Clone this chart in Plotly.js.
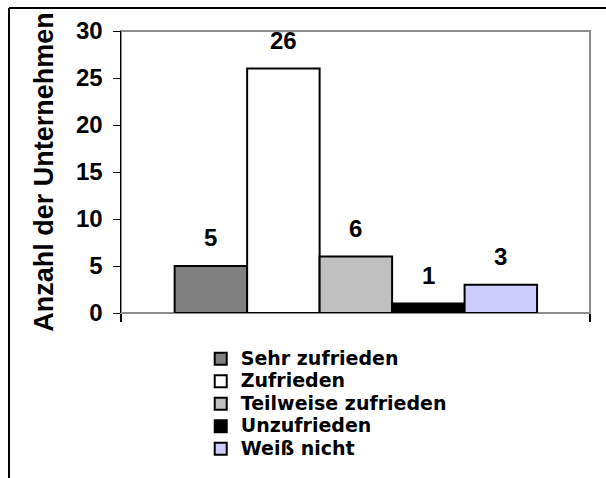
<!DOCTYPE html>
<html><head><meta charset="utf-8">
<script src="https://cdn.plot.ly/plotly-3.0.1.min.js"></script>
<style>html,body{margin:0;padding:0;background:#fff;} #chart{width:606px;height:478px;}</style>
</head><body><div id="chart"></div>
<script>
const categories = ["Sehr zufrieden", "Zufrieden", "Teilweise zufrieden", "Unzufrieden", "Weiß nicht"];
const values = [5, 26, 6, 1, 3];
const colors = ["#808080", "#ffffff", "#c0c0c0", "#000000", "#ccccff"];
const yTickVals = [0, 5, 10, 15, 20, 25, 30];
const yTitle = "Anzahl der Unternehmen";

const FONT = "Liberation Sans, Arial, Helvetica, sans-serif";
const LEGFONT = "DejaVu Sans, Liberation Sans, Arial, sans-serif";

const traces = categories.map((c, i) => ({
  type: 'bar',
  x: [i],
  y: [values[i]],
  name: '<span style="font-size:19px;font-weight:bold">' + c + '</span>',
  width: [1],
  marker: {color: colors[i], line: {color: '#000000', width: 2}},
  hoverinfo: 'none'
}));

const annotations = categories.map((c, i) => ({
  x: i, y: values[i], xref: 'x', yref: 'y',
  text: String(values[i]), showarrow: false,
  yanchor: 'bottom', yshift: 13,
  font: {family: FONT, size: 24, color: '#000000', weight: 'bold'}
}));

const layout = {
  width: 606, height: 478,
  margin: {l: 121, r: 16, t: 31, b: 165, pad: 0},
  paper_bgcolor: '#ffffff', plot_bgcolor: '#ffffff',
  barmode: 'overlay',
  showlegend: true,
  font: {family: FONT, color: '#000000'},
  xaxis: {
    range: [-1.24, 5.23], showgrid: false, zeroline: false, showline: false,
    tickmode: 'array', tickvals: [-1.24, 5.23], ticktext: ['', ''],
    ticks: 'outside', ticklen: 8, tickwidth: 1.5, tickcolor: '#000000',
    showticklabels: false, fixedrange: true
  },
  yaxis: {
    range: [0, 30], tickmode: 'array', tickvals: yTickVals,
    showgrid: false, zeroline: false, showline: true, linecolor: '#000000', linewidth: 1.5,
    ticks: 'outside', ticklen: 7, tickwidth: 1, tickcolor: '#000000',
    ticklabelstandoff: 5,
    tickfont: {family: FONT, size: 24, color: '#000000', weight: 'bold'},
    title: {text: yTitle, standoff: 14, font: {family: FONT, size: 27, color: '#000000', weight: 'bold'}},
    fixedrange: true
  },
  legend: {
    x: 0.17, xanchor: 'left', y: -0.105, yanchor: 'top',
    font: {family: LEGFONT, size: 15, color: '#000000', weight: 'bold'},
    bgcolor: 'rgba(0,0,0,0)', borderwidth: 0, traceorder: 'normal'
  },
  annotations: annotations,
  shapes: [
    {type: 'rect', xref: 'paper', yref: 'paper', x0: 0, x1: 1, y0: 0, y1: 1,
     line: {color: '#8c8c8c', width: 2}, layer: 'below'},
    {type: 'line', xref: 'paper', yref: 'paper', x0: -0.2388, x1: 1.1, y0: 1.0816, y1: 1.0816,
     line: {color: '#000000', width: 2}},
    {type: 'line', xref: 'paper', yref: 'paper', x0: -0.2388, x1: -0.2388, y0: 1.0816, y1: -0.7,
     line: {color: '#000000', width: 2}}
  ]
};

Plotly.newPlot('chart', traces, layout, {displayModeBar: false, staticPlot: true});
</script>
</body></html>
